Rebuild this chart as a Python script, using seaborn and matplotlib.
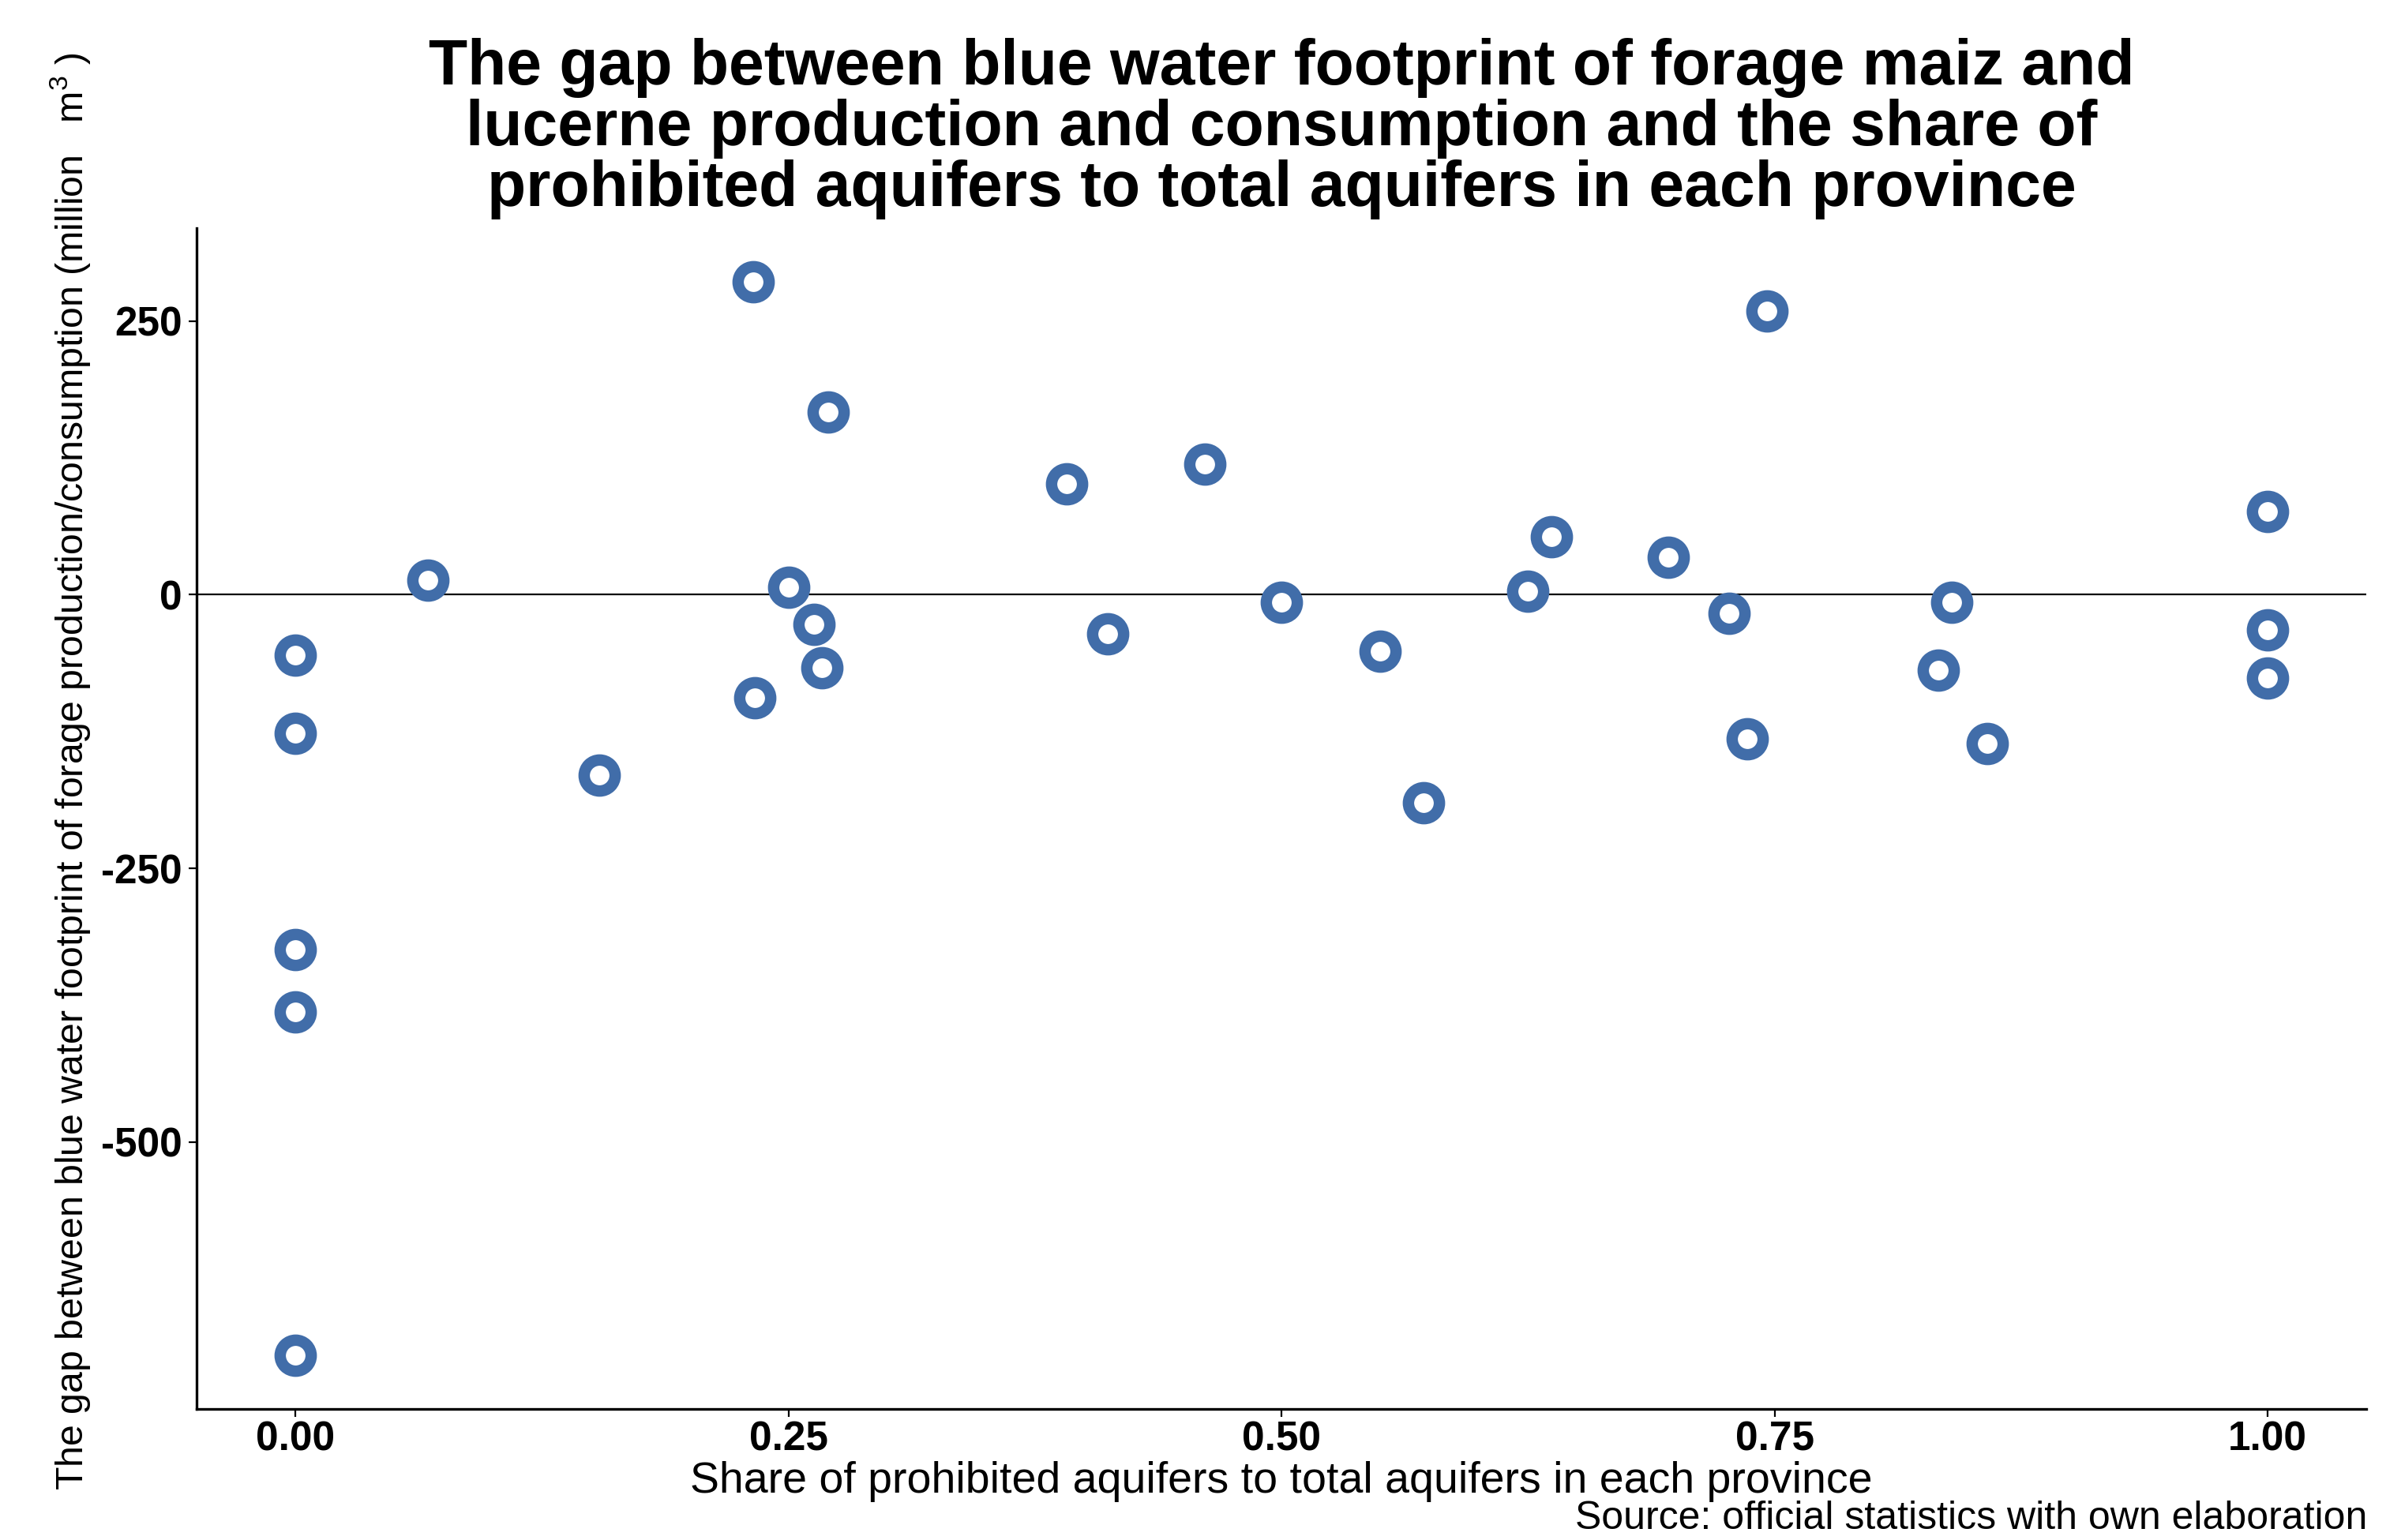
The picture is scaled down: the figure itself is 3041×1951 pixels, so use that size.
import pandas as pd
import matplotlib.pyplot as plt
import seaborn as sns
import numpy as np

# Share of prohibited aquifers (x) and blue water footprint gap (y)
share = [0.0, 0.0, 0.0, 0.0, 0.0, 0.067, 0.154, 0.232, 0.233, 0.250,
         0.270, 0.263, 0.267, 0.391, 0.412, 0.461, 0.500, 0.550, 0.572, 0.625,
         0.637, 0.696, 0.727, 0.736, 0.746, 0.833, 0.840, 0.858, 1.0, 1.0, 1.0]
gap = [-55, -127, -324, -381, -695, 13, -165, 286, -94, 7,
       167, -27, -67, 101, -36, 119, -7, -52, -190, 3,
       53, 34, -17, -132, 259, -69, -7, -136, 76, -32, -76]

x_ticks = [0.0, 0.25, 0.5, 0.75, 1.0]
x_tick_labels = ["0.00", "0.25", "0.50", "0.75", "1.00"]
y_ticks = [250, 0, -250, -500]
y_tick_labels = ["250", "0", "-250", "-500"]

data = pd.DataFrame({'share': share, 'gap': gap})

sns.set_style("ticks")
plt.rcParams['font.family'] = ['Liberation Sans', 'DejaVu Sans']
plt.rcParams['mathtext.fontset'] = 'custom'
plt.rcParams['mathtext.rm'] = 'Liberation Sans'
plt.rcParams['mathtext.default'] = 'regular'
plt.rcParams['text.color'] = 'black'
plt.rcParams['axes.labelcolor'] = 'black'

fig = plt.figure(figsize=(15.205, 9.755), dpi=200)
ax = fig.add_axes([0.082, 0.085, 0.9035, 0.767])

sns.scatterplot(x='share', y='gap', data=data, ax=ax, s=200,
                facecolor='white', edgecolor='#416DA9', linewidth=5.2, zorder=3)

ax.axhline(0, color='black', linewidth=0.8, zorder=2)

ax.set_xlim(-0.05, 1.05)
ax.set_ylim(-744, 335)
ax.set_xticks(x_ticks)
ax.set_xticklabels(x_tick_labels, fontweight='bold', fontsize=18.5)
ax.set_yticks(y_ticks)
ax.set_yticklabels(y_tick_labels, fontweight='bold', fontsize=18.5)
ax.tick_params(length=3.6, width=0.8, colors='black')
ax.tick_params(axis='x', pad=1.5)
ax.tick_params(axis='y', pad=3)

for side in ['left', 'bottom']:
    ax.spines[side].set_linewidth(1.2)
    ax.spines[side].set_color('black')
sns.despine(ax=ax)

ax.set_title("The gap between blue water footprint of forage maiz and\n"
             "lucerne production and consumption and the share of\n"
             "prohibited aquifers to total aquifers in each province",
             fontsize=29, fontweight='bold', pad=10, linespacing=1.02)
ax.set_xlabel("Share of prohibited aquifers to total aquifers in each province",
              fontsize=20, labelpad=1)
ax.set_ylabel("The gap between blue water footprint of forage production/consumption (million   m$^{3}$ )",
              fontsize=17.4, labelpad=4)
ax.yaxis.label.set_y(0.54)

fig.text(0.986, 0.002, "Source: official statistics with own elaboration",
         ha='right', va='bottom', fontsize=18)

plt.savefig("out.png", dpi=200)
